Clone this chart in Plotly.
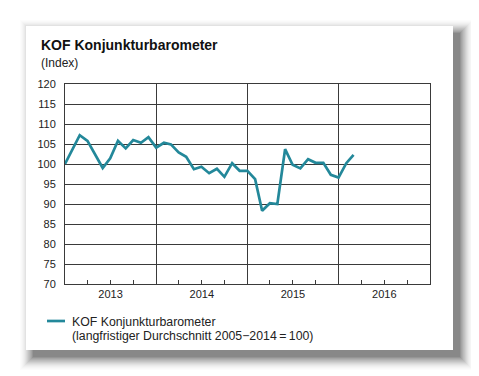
import plotly.graph_objects as go
import pandas as pd

months = pd.date_range("2013-01-01", "2016-03-01", freq="MS")
kof_values = [
    100.0, 103.6, 107.2, 105.8, 102.3, 99.0, 101.4, 105.8, 103.9, 106.0, 105.3, 106.7,
    104.1, 105.3, 104.9, 102.9, 101.8, 98.7, 99.3, 97.7, 98.8, 96.8, 100.2, 98.3,
    98.3, 96.2, 88.3, 90.2, 90.0, 103.7, 99.8, 98.9, 101.2, 100.3, 100.3, 97.3,
    96.6, 100.2, 102.3,
]
years = ["2013", "2014", "2015", "2016"]
series_name = "KOF Konjunkturbarometer"
series_note = "(langfristiger Durchschnitt 2005\u22122014\u2009=\u2009100)"

# the page body adds an 8px offset; work in screen pixels and shift
OFF = 8
W, H = 479 - OFF, 376 - OFF
L, R, T, B = 65, 430, 84, 284  # plot area in screen pixels

def px(x):
    return (x - L) / (R - L)

def py(y):
    return (B - y) / (B - T)

FONT = "Liberation Sans, Arial, sans-serif"
LINE = "#23889a"
GRID = "#3a3a3a"

fig = go.Figure()
fig.add_trace(go.Scatter(
    x=months, y=kof_values, mode="lines", name=series_name,
    line=dict(color=LINE, width=2.7), showlegend=False,
))

shapes = []
# card shadow (soft, offset to bottom-right)
card = (26, 26, 453, 350)
alphas = [0.09, 0.08, 0.07, 0.06, 0.05, 0.045, 0.04, 0.035, 0.03, 0.025, 0.02, 0.015, 0.012, 0.01]
sx, sy = 7, 7
for k, a in enumerate(alphas):
    shapes.append(dict(
        type="rect", xref="paper", yref="paper", layer="below",
        x0=px(card[0] + sx - k), x1=px(card[2] + sx + k),
        y0=py(card[3] + sy + k), y1=py(card[1] + sy - k),
        line=dict(width=0), fillcolor=f"rgba(0,0,0,{a})",
    ))
shapes.append(dict(
    type="rect", xref="paper", yref="paper", layer="below",
    x0=px(card[0]), x1=px(card[2]), y0=py(card[3]), y1=py(card[1]),
    line=dict(width=0), fillcolor="white",
))
# legend swatch
shapes.append(dict(
    type="line", xref="paper", yref="paper",
    x0=px(47), x1=px(65), y0=py(321), y1=py(321),
    line=dict(color=LINE, width=2.7),
))

fig.update_layout(
    width=W, height=H,
    margin=dict(l=L - OFF, r=(W + OFF) - R, t=T - OFF, b=(H + OFF) - B),
    paper_bgcolor="white", plot_bgcolor="rgba(0,0,0,0)",
    font=dict(family=FONT, size=11, color="#222"),
    shapes=shapes,
    showlegend=False,
    annotations=[
        dict(text="<b>KOF Konjunkturbarometer</b>", xref="paper", yref="paper",
             x=px(39), y=py(45), xanchor="left", yanchor="middle",
             showarrow=False, font=dict(size=14, color="#111")),
        dict(text="(Index)", xref="paper", yref="paper",
             x=px(39), y=py(63), xanchor="left", yanchor="middle",
             showarrow=False, font=dict(size=12, color="#222")),
        dict(text=series_name, xref="paper", yref="paper",
             x=px(70), y=py(321.5), xanchor="left", yanchor="middle", align="left",
             showarrow=False, font=dict(size=12.3, color="#222")),
        dict(text=series_note, xref="paper", yref="paper",
             x=px(70), y=py(335.5), xanchor="left", yanchor="middle", align="left",
             showarrow=False, font=dict(size=12.3, color="#222")),
    ],
)

fig.update_xaxes(
    type="date", range=["2013-01-01", "2017-01-01"],
    dtick="M12", tick0="2013-01-01", tickformat="%Y", ticklabelmode="period",
    showgrid=True, gridcolor=GRID, gridwidth=1,
    showline=True, linecolor=GRID, linewidth=1, mirror=True,
    ticks="", zeroline=False,
    minor=dict(dtick="M3", tick0="2013-01-01", ticks="inside", ticklen=4,
               tickcolor=GRID, showgrid=False),
    tickfont=dict(size=11, color="#222"),
)
fig.update_yaxes(
    range=[70, 120], dtick=5, tick0=70,
    showgrid=True, gridcolor=GRID, gridwidth=1,
    showline=True, linecolor=GRID, linewidth=1, mirror=True,
    ticks="", zeroline=False, ticklabelstandoff=6,
    tickfont=dict(size=11, color="#222"),
)

fig.write_html("out.html")
